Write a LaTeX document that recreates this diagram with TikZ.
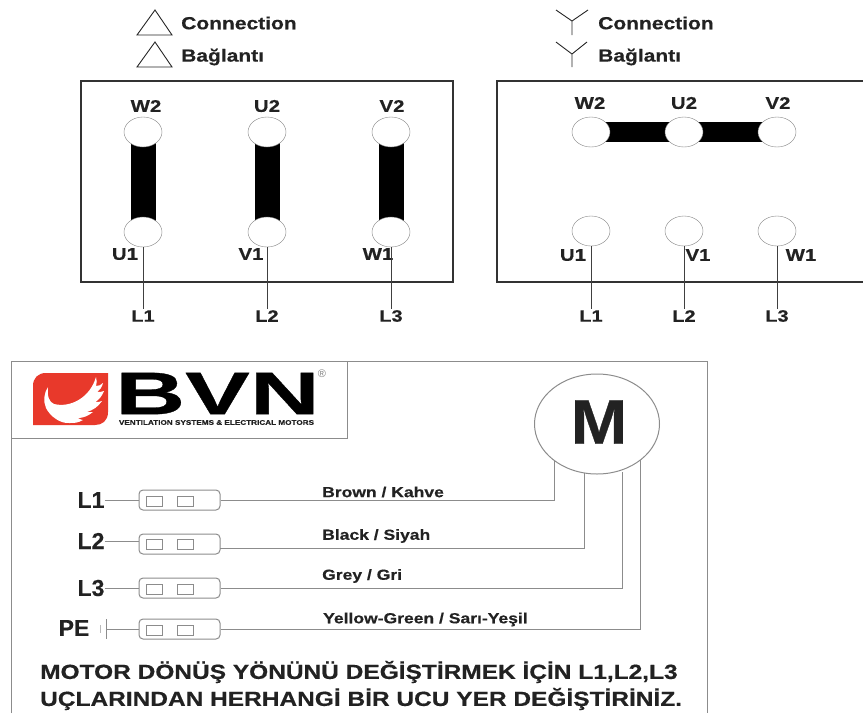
\documentclass[tikz,border=0pt]{standalone}
\usepackage{fontspec}
\setmainfont[FakeStretch=1.2,BoldFeatures={FakeStretch=1.2,FakeBold=0.5}]{Liberation Sans}
\newfontfamily\plainfont[BoldFeatures={FakeBold=0.5}]{Liberation Sans}
\usetikzlibrary{shapes.geometric,backgrounds}
\definecolor{logored}{HTML}{E8392B}
\definecolor{wiregray}{HTML}{8C8C8C}
\definecolor{inkgray}{HTML}{222222}

\begin{document}
\begin{tikzpicture}
	[x=1pt,y=-1pt,
		heading/.style		={anchor=west, inner sep=0pt, text=inkgray, font=\bfseries\fontsize{17.5}{20}\selectfont},
		stud/.style			={ellipse, draw=gray, fill=white, minimum width=38pt, minimum height=30pt, inner sep=0pt},
		studlabel/.style	={inner sep=0pt, text=inkgray, font=\bfseries\fontsize{17}{20}\selectfont},
		linelabel/.style	={inner sep=1pt, text=inkgray, font=\bfseries\fontsize{16.5}{20}\selectfont},
		wirelabel/.style	={anchor=west, inner sep=0pt, text=inkgray, font=\bfseries\fontsize{14.6}{16}\selectfont},
		phaselabel/.style	={inner sep=0pt, text=inkgray, font=\plainfont\bfseries\fontsize{23}{26}\selectfont},
		terminal/.style		={rectangle, rounded corners=4pt, draw=wiregray, line width=1pt, minimum width=81pt, minimum height=20pt, inner sep=0pt},
		pin/.style			={rectangle, draw=wiregray, line width=.8pt, minimum width=16pt, minimum height=10pt, inner sep=0pt},
		notice/.style		={anchor=west, inner sep=0pt, text=inkgray, font=\bfseries\fontsize{20.4}{22}\selectfont},
		symbol/.style		={draw, black!85, line width=.9pt},
		line/.style			={draw, black!75, line width=.7pt},
		wire/.style			={draw, wiregray, line width=1pt},
		bar/.style			={draw, black, line width=25pt},
		barh/.style			={draw, black, line width=20pt},
		frame/.style		={draw, black!80, line width=1.2pt},
		outline/.style		={draw, wiregray, line width=1pt}
	]
\useasboundingbox (0,0) rectangle (863,713);

% delta connection
\path [symbol] (155,10) -- (137,35) -- (172,35) -- cycle;
\path [symbol] (155,42) -- (137,67) -- (172,67) -- cycle;
\node [heading] (delta title)		at (181,23)		{Connection};
\node [heading] (delta title tr)	at (181,57)		{Bağlantı};
\path [frame] (81,81) rectangle (453,282);

\node [stud] (w2)	at (143,132)	{};
\node [stud] (u2)	at (267,132)	{};
\node [stud] (v2)	at (391,132)	{};
\node [stud] (u1)	at (143,232)	{};
\node [stud] (v1)	at (267,232)	{};
\node [stud] (w1)	at (391,232)	{};
\node [studlabel] (w2 label)	at (146,106)	{W2};
\node [studlabel] (u2 label)	at (267,106)	{U2};
\node [studlabel] (v2 label)	at (392,106)	{V2};
\node [studlabel] (u1 label)	at (125,254)	{U1};
\node [studlabel] (v1 label)	at (251,254)	{V1};
\node [studlabel] (w1 label)	at (378,254)	{W1};
\node [linelabel] (l1)	at (143,316)	{L1};
\node [linelabel] (l2)	at (267,316)	{L2};
\node [linelabel] (l3)	at (391,316)	{L3};

% star connection
\path [symbol] (556,10) -- (572,21) -- (588,10) (572,21) -- (572,35);
\path [symbol] (556,42) -- (572,54) -- (587,42) (572,54) -- (572,67);
\node [heading] (star title)		at (598,23)		{Connection};
\node [heading] (star title tr)		at (598,57)		{Bağlantı};
\path [frame] (863,81) -- (497,81) -- (497,282) -- (863,282);

\node [stud] (star w2)	at (591,132)	{};
\node [stud] (star u2)	at (684,132)	{};
\node [stud] (star v2)	at (777,132)	{};
\node [stud] (star u1)	at (591,231)	{};
\node [stud] (star v1)	at (684,231)	{};
\node [stud] (star w1)	at (777,231)	{};
\node [studlabel] (star w2 label)	at (590,103)	{W2};
\node [studlabel] (star u2 label)	at (684,103)	{U2};
\node [studlabel] (star v2 label)	at (778,103)	{V2};
\node [studlabel] (star u1 label)	at (573,255)	{U1};
\node [studlabel] (star v1 label)	at (698,255)	{V1};
\node [studlabel] (star w1 label)	at (801,255)	{W1};
\node [linelabel] (star l1)	at (591,316)	{L1};
\node [linelabel] (star l2)	at (684,316)	{L2};
\node [linelabel] (star l3)	at (777,316)	{L3};

\begin{pgfonlayer}{background}
	\path [bar]		(w2.center) -- (u1.center);
	\path [bar]		(u2.center) -- (v1.center);
	\path [bar]		(v2.center) -- (w1.center);
	\path [barh]	(star w2.center) -- (star v2.center);
\end{pgfonlayer}

\begin{scope}[every path/.style=line]
	\path	(u1.south)		-- (l1.north);
	\path	(v1.south)		-- (l2.north);
	\path	(w1.south)		-- (l3.north);
	\path	(star u1.south)	-- (star l1.north);
	\path	(star v1.south)	-- (star l2.north);
	\path	(star w1.south)	-- (star l3.north);
\end{scope}

% lower panel
\path [outline] (11,713) -- (11,361) -- (707,361) -- (707,713);
\path [outline] (11,438) -- (347,438) -- (347,361);

% logo
\fill [logored] (46,373) -- (108,373) -- (108,412) .. controls (108,421) and (102,425) .. (95,425)
	-- (33,425) -- (33,386) .. controls (33,378) and (38,373) .. (46,373) -- cycle;
\fill [white] (48,387) .. controls (47,396) and (49,402) .. (54,404)
	.. controls (70,408) and (90,398) .. (96,377)
	.. controls (97,380) and (97,383) .. (96,386)
	.. controls (99,386) and (101,385) .. (103,383)
	.. controls (102,387) and (100,390) .. (97,392)
	.. controls (99,392) and (102,392) .. (104,391)
	.. controls (102,396) and (99,400) .. (95,402)
	.. controls (98,402) and (100,402) .. (102,401)
	.. controls (98,407) and (93,410) .. (87,412)
	.. controls (89,412) and (91,412) .. (93,412)
	.. controls (88,416) and (83,418) .. (78,418)
	.. controls (80,419) and (81,420) .. (83,420)
	.. controls (78,423) and (74,423) .. (70,423)
	.. controls (60,424) and (50,416) .. (46,408) .. controls (43,401) and (44,393) .. (48,387) -- cycle;
\node [inner sep=0pt, xscale=1.345, transform shape, text=black, font=\bfseries\fontsize{60}{60}\selectfont] (brand) at (217.5,393.5) {BVN};
\node [inner sep=0pt, text=inkgray, font=\bfseries\fontsize{6.8}{8}\selectfont] (tagline) at (216.5,422.5) {VENTILATION SYSTEMS \& ELECTRICAL MOTORS};
\node [inner sep=0pt, text=gray, font=\plainfont\fontsize{11}{12}\selectfont] (registered) at (322,374) {®};

% motor
\node [ellipse, draw=wiregray, line width=1pt, minimum width=125pt, minimum height=100pt, inner sep=0pt] (motor) at (597,424) {};
\node [inner sep=0pt, xscale=1.08, transform shape, text=inkgray, font=\plainfont\bfseries\fontsize{63}{64}\selectfont] (motor label) at (599,422) {M};

% row 1
\node [phaselabel] (phase l1)	at (91,500)		{L1};
\node [terminal] (term l1)		at (179.5,500)	{};
\node [pin] (term l1 a)			at (154.5,501)	{};
\node [pin] (term l1 b)			at (185,501)	{};
\node [wirelabel] (label l1)	at (322,492)	{Brown / Kahve};
% row 2
\node [phaselabel] (phase l2)	at (91,541)		{L2};
\node [terminal] (term l2)		at (179.5,544)	{};
\node [pin] (term l2 a)			at (154.5,544)	{};
\node [pin] (term l2 b)			at (185,544)	{};
\node [wirelabel] (label l2)	at (322,536)	{Black / Siyah};
% row 3
\node [phaselabel] (phase l3)	at (91,588)		{L3};
\node [terminal] (term l3)		at (179.5,588)	{};
\node [pin] (term l3 a)			at (154.5,589)	{};
\node [pin] (term l3 b)			at (185,589)	{};
\node [wirelabel] (label l3)	at (322,576)	{Grey / Gri};
% row 4
\node [phaselabel] (phase pe)	at (74,628)		{PE};
\node [terminal] (term pe)		at (179.5,629)	{};
\node [pin] (term pe a)			at (154.5,630)	{};
\node [pin] (term pe b)			at (185,630)	{};
\node [wirelabel] (label pe)	at (323,619.5)	{Yellow-Green / Sarı-Yeşil};

\coordinate (earth)		at (106,629);
\coordinate (motor a)	at (554,461);
\coordinate (motor b)	at (584,473);
\coordinate (motor c)	at (622,472);
\coordinate (motor d)	at (640,460);
\coordinate (term l2 out)	at (220,548);

\path [wire] (106,619) -- (106,639);
\path [wire, wiregray!60] (100,625) -- (100,633);

\begin{scope}[every path/.style=wire]
	\path	(phase l1.east)			-- (term l1.west);
	\path	(phase l2.east)			-- (phase l2.east -| term l2.west);
	\path	(phase l3.east)			-- (term l3.west);
	\path	(earth)					-- (term pe.west);

	\path	(term l1.east)			-| (motor a);
	\path	(term l2 out)			-| (motor b);
	\path	(term l3.east)			-| (motor c);
	\path	(term pe.east)			-| (motor d);
\end{scope}

% note
\node [notice] (note 1)	at (40,672)	{MOTOR DÖNÜŞ YÖNÜNÜ DEĞİŞTİRMEK İÇİN L1,L2,L3};
\node [notice] (note 2)	at (40,699)	{UÇLARINDAN HERHANGİ BİR UCU YER DEĞİŞTİRİNİZ.};
\end{tikzpicture}
\end{document}
